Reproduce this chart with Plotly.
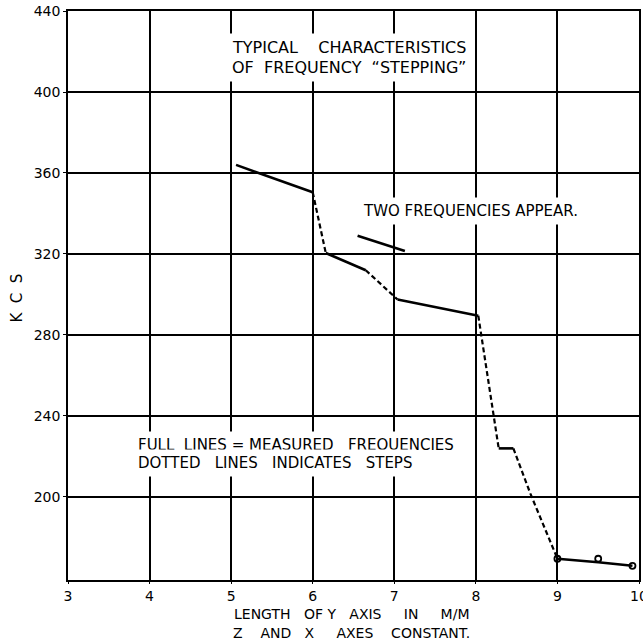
import plotly.graph_objects as go

# --- data ---
solid_a_x = [5.06, 6.0]
solid_a_y = [364, 350.5]
solid_b_x = [6.16, 6.65]
solid_b_y = [320.5, 312]
solid_c_x = [7.04, 8.03]
solid_c_y = [297.5, 289.5]
solid_d_x = [8.28, 8.46]
solid_d_y = [224, 224]
solid_e_x = [9.0, 9.5, 9.92]
solid_e_y = [169.5, 167.8, 166]
two_freq_x = [6.55, 7.13]
two_freq_y = [329, 321.5]

dot_a_x = [6.0, 6.08, 6.16]
dot_a_y = [350.5, 335, 320.5]
dot_b_x = [6.65, 7.04]
dot_b_y = [312, 297.5]
dot_c_x = [8.03, 8.28]
dot_c_y = [289.5, 224]
dot_d_x = [8.46, 8.67, 9.0]
dot_d_y = [224, 201.5, 169.5]

circle_x = [9.0, 9.5, 9.92]
circle_y = [169.5, 169.5, 166]

x_ticks = [3, 4, 5, 6, 7, 8, 9, 10]
y_ticks = [200, 240, 280, 320, 360, 400, 440]

FONT = "DejaVu Sans"

fig = go.Figure()

solids = [(solid_a_x, solid_a_y), (solid_b_x, solid_b_y), (solid_c_x, solid_c_y),
          (solid_d_x, solid_d_y), (solid_e_x, solid_e_y), (two_freq_x, two_freq_y)]
for xs, ys in solids:
    fig.add_trace(go.Scatter(x=xs, y=ys, mode="lines",
                             line=dict(color="black", width=2.6), showlegend=False))

dots = [(dot_a_x, dot_a_y), (dot_b_x, dot_b_y), (dot_c_x, dot_c_y), (dot_d_x, dot_d_y)]
for xs, ys in dots:
    fig.add_trace(go.Scatter(x=xs, y=ys, mode="lines",
                             line=dict(color="black", width=2.2, dash="5px,3px"),
                             showlegend=False))

fig.add_trace(go.Scatter(x=circle_x, y=circle_y, mode="markers",
                         marker=dict(symbol="circle-open", size=6, color="black",
                                     line=dict(width=1.8, color="black")),
                         showlegend=False))

annotations = [
    dict(x=6.44, y=422.2, text="TYPICAL    CHARACTERISTICS", size=16),
    dict(x=6.44, y=412.3, text="OF  FREQUENCY  \u201cSTEPPING\u201d", size=16),
    dict(x=7.93, y=341, text="TWO FREQUENCIES APPEAR.", size=15),
    dict(x=3.8, y=225.7, text="FULL  LINES = MEASURED   FREQUENCIES", xanchor="left", size=15),
    dict(x=3.8, y=216.8, text="DOTTED   LINES   INDICATES   STEPS", xanchor="left", size=15),
]
for a in annotations:
    fig.add_annotation(xref="x", yref="y", showarrow=False,
                       font=dict(family=FONT, size=a["size"], color="black"),
                       bgcolor="white", borderpad=4,
                       xanchor=a.get("xanchor", "center"), yanchor="middle",
                       x=a["x"], y=a["y"], text=a["text"])

fig.add_annotation(xref="x", yref="paper", x=6.48, y=0, yanchor="middle", yshift=-34,
                   showarrow=False, font=dict(family=FONT, size=14, color="black"),
                   text="LENGTH   OF Y   AXIS     IN     M/M")
fig.add_annotation(xref="x", yref="paper", x=6.48, y=0, yanchor="middle", yshift=-53,
                   showarrow=False, font=dict(family=FONT, size=14, color="black"),
                   text="Z    AND   X     AXES    CONSTANT.")
fig.add_annotation(xref="paper", yref="y", x=0, xshift=-51, y=298, xanchor="center",
                   yanchor="middle", showarrow=False, textangle=-90,
                   font=dict(family=FONT, size=15, color="black"), text="K  C  S")

fig.update_xaxes(range=[3, 10], tickvals=x_ticks, ticktext=[str(v) for v in x_ticks],
                 showgrid=True, gridcolor="black", gridwidth=1.5,
                 showline=True, linecolor="black", linewidth=1.5, mirror=True,
                 ticks="outside", ticklen=2, tickcolor="black", zeroline=False,
                 ticklabeloverflow="allow",
                 tickfont=dict(family=FONT, size=14, color="black"), automargin=False)
fig.update_yaxes(range=[159, 440], tickvals=y_ticks, ticktext=[str(v) for v in y_ticks],
                 showgrid=True, gridcolor="black", gridwidth=1.5,
                 showline=True, linecolor="black", linewidth=1.5, mirror=True,
                 ticks="outside", ticklen=3, tickcolor="black", zeroline=False,
                 ticklabeloverflow="allow",
                 tickfont=dict(family=FONT, size=14, color="black"), automargin=False)

fig.update_layout(width=643, height=641, plot_bgcolor="white", paper_bgcolor="white",
                  margin=dict(l=68, r=4, t=11, b=61), showlegend=False)

# remove the browser's default 8px body margin so the 643x641 figure fills the window
fig.write_html("out.html", config={"displayModeBar": False},
               post_script="document.body.style.margin='0';document.body.style.overflow='hidden';")
